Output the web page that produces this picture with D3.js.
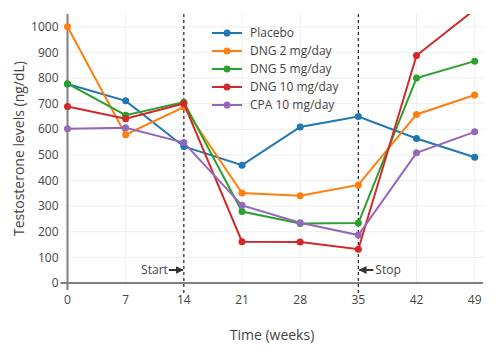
<!DOCTYPE html>
<html><head><meta charset="utf-8">
<script src="https://cdn.jsdelivr.net/npm/d3@7"></script>
<style>
html,body{margin:0;padding:0;background:#fff;}
svg text{font-family:"Open Sans",sans-serif;fill:#444;}
</style></head>
<body><svg id="c" width="500" height="355"></svg>
<script>
const weeks = [0, 7, 14, 21, 28, 35, 42, 49];
const seriesNames = ["Placebo", "DNG 2 mg/day", "DNG 5 mg/day", "DNG 10 mg/day", "CPA 10 mg/day"];
const placebo = [777, 711, 533, 460, 609, 650, 564, 491];
const dng2 = [1000, 579, 687, 351, 341, 383, 658, 734];
const dng5 = [778, 655, 706, 279, 232, 234, 800, 866];
const dng10 = [689, 641, 701, 161, 160, 132, 888, 1067];
const cpa10 = [602, 606, 548, 303, 235, 187, 508, 590];
const colors = ["#1f77b4", "#ff7f0e", "#2ca02c", "#d62728", "#9467bd"];
const yTicks = [0, 100, 200, 300, 400, 500, 600, 700, 800, 900, 1000];
const xTicks = [0, 7, 14, 21, 28, 35, 42, 49];
const markers = [{week: 14, label: "Start", side: "left"}, {week: 35, label: "Stop", side: "right"}];

const allSeries = [placebo, dng2, dng5, dng10, cpa10];
const svg = d3.select("#c");
const L = 67.5, R = 483, T = 14, B = 283;
const x = d3.scaleLinear().domain([0, 50]).range([L, R]);
const y = d3.scaleLinear().domain([0, 1050]).range([B, T]);

// gridlines
const g = svg.append("g");
g.selectAll(".hg").data(yTicks.filter(d => d > 0)).join("line")
  .attr("x1", L).attr("x2", R).attr("y1", d => y(d)).attr("y2", d => y(d))
  .attr("stroke", "#eee").attr("stroke-width", 1);
g.selectAll(".vg").data(xTicks.filter(d => d > 0)).join("line")
  .attr("x1", d => x(d)).attr("x2", d => x(d)).attr("y1", T).attr("y2", B)
  .attr("stroke", "#eee").attr("stroke-width", 1);

// axes lines
svg.append("line").attr("x1", x(0)).attr("x2", x(0)).attr("y1", T).attr("y2", B + 7)
  .attr("stroke", "#808080").attr("stroke-width", 2);
svg.append("line").attr("x1", L - 7).attr("x2", R).attr("y1", y(0)).attr("y2", y(0))
  .attr("stroke", "#808080").attr("stroke-width", 2);

// tick labels
svg.selectAll(".yt").data(yTicks).join("text")
  .attr("x", L - 9).attr("y", d => y(d)).attr("dy", "0.35em")
  .attr("text-anchor", "end").attr("font-size", 12).text(d => d);
svg.selectAll(".xt").data(xTicks).join("text")
  .attr("x", d => x(d)).attr("y", 304)
  .attr("text-anchor", "middle").attr("font-size", 12).text(d => d);

// axis titles
svg.append("text").attr("transform", `translate(24,${(T + B) / 2}) rotate(-90)`)
  .attr("text-anchor", "middle").attr("font-size", 14).text("Testosterone levels (ng/dL)");
svg.append("text").attr("x", 272).attr("y", 340)
  .attr("text-anchor", "middle").attr("font-size", 14).text("Time (weeks)");

// dashed verticals
svg.selectAll(".dv").data(markers).join("line")
  .attr("x1", d => x(d.week)).attr("x2", d => x(d.week)).attr("y1", T).attr("y2", B + 10)
  .attr("stroke", "#222").attr("stroke-width", 1.2).attr("stroke-dasharray", "3,3");

// clip
svg.append("clipPath").attr("id", "clip").append("rect")
  .attr("x", L - 10).attr("y", T).attr("width", R - L + 20).attr("height", B - T + 10);

const line = d3.line().x((d, i) => x(weeks[i])).y(d => y(d));
const plot = svg.append("g").attr("clip-path", "url(#clip)");
allSeries.forEach((s, k) => {
  plot.append("path").datum(s).attr("d", line).attr("fill", "none")
    .attr("stroke", colors[k]).attr("stroke-width", 2);
  plot.selectAll(".m" + k).data(s).join("circle")
    .attr("cx", (d, i) => x(weeks[i])).attr("cy", d => y(d)).attr("r", 3.5)
    .attr("fill", colors[k]);
});

// annotations
svg.append("defs").append("marker").attr("id", "ah").attr("viewBox", "0 0 10 10")
  .attr("refX", 9).attr("refY", 5).attr("markerWidth", 4).attr("markerHeight", 4)
  .attr("orient", "auto").append("path").attr("d", "M0,0 L10,5 L0,10 z").attr("fill", "#333");
markers.forEach(m => {
  const xm = x(m.week), ya = 270;
  if (m.side === "left") {
    svg.append("line").attr("x1", xm - 15).attr("x2", xm - 1).attr("y1", ya).attr("y2", ya)
      .attr("stroke", "#333").attr("stroke-width", 2).attr("marker-end", "url(#ah)");
    svg.append("text").attr("x", xm - 16).attr("y", ya).attr("dy", "0.35em")
      .attr("text-anchor", "end").attr("font-size", 12).text(m.label);
  } else {
    svg.append("line").attr("x1", xm + 15).attr("x2", xm + 1).attr("y1", ya).attr("y2", ya)
      .attr("stroke", "#333").attr("stroke-width", 2).attr("marker-end", "url(#ah)");
    svg.append("text").attr("x", xm + 17).attr("y", ya).attr("dy", "0.35em")
      .attr("text-anchor", "start").attr("font-size", 12).text(m.label);
  }
});

// legend
const lg = svg.append("g").attr("transform", "translate(212,33)");
seriesNames.forEach((n, k) => {
  const gy = k * 18;
  lg.append("line").attr("x1", 0).attr("x2", 30).attr("y1", gy).attr("y2", gy)
    .attr("stroke", colors[k]).attr("stroke-width", 2);
  lg.append("circle").attr("cx", 15).attr("cy", gy).attr("r", 3.5).attr("fill", colors[k]);
  lg.append("text").attr("x", 38).attr("y", gy).attr("dy", "0.35em")
    .attr("font-size", 12).text(n);
});
</script></body></html>
